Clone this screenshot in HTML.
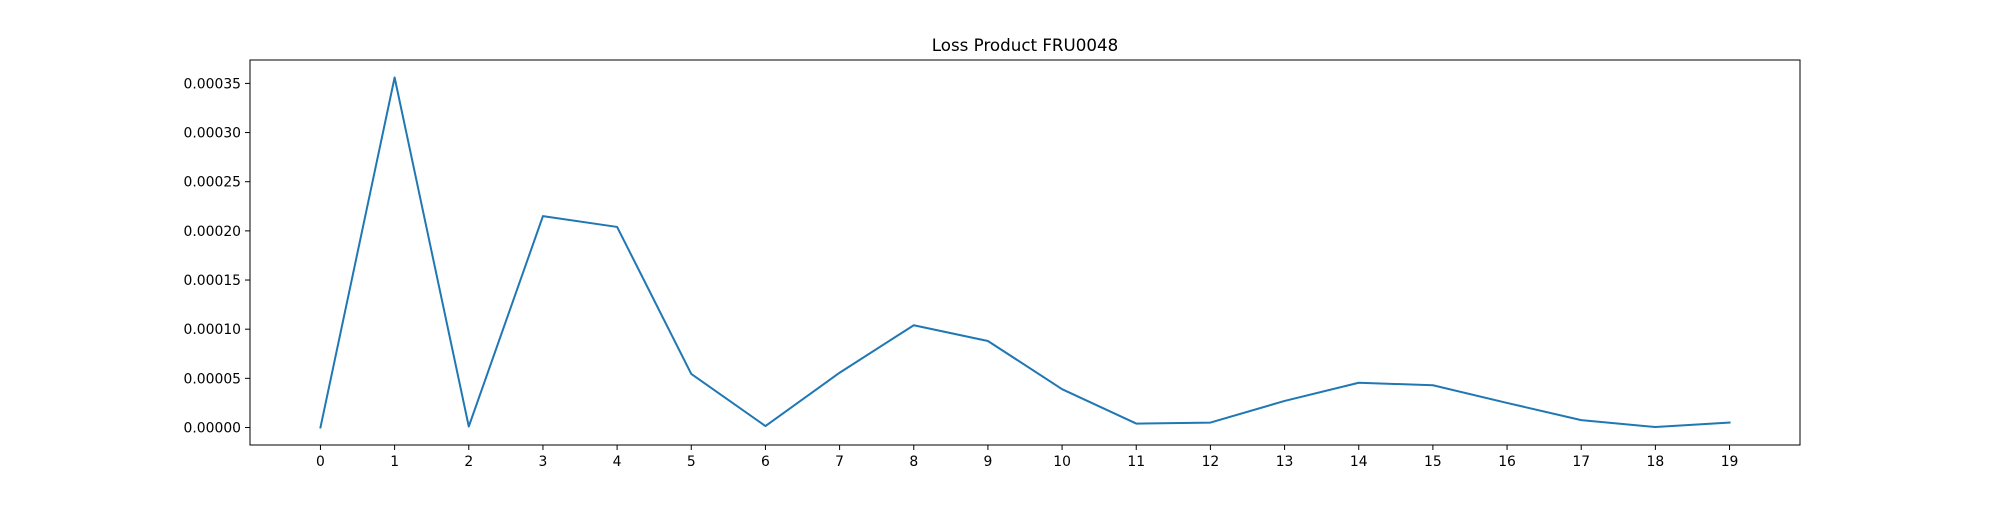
<!DOCTYPE html>
<html><head><meta charset="utf-8"><style>
body{margin:0;background:#fff}
svg text{font-family:"DejaVu Sans","Liberation Sans",sans-serif;font-size:13.9px;fill:#000}
</style></head><body>
<svg id="chart" width="2000" height="500" xmlns="http://www.w3.org/2000/svg">
<rect width="2000" height="500" fill="#fff"/>
<text x="1025" y="51" text-anchor="middle" style="font-size:16.7px">Loss Product FRU0048</text>
<g id="grid"></g>
<polyline id="line" fill="none" stroke="#1f77b4" stroke-width="2" stroke-linejoin="round" stroke-linecap="square"/>
<rect x="250" y="60" width="1550" height="385" fill="none" stroke="#000" stroke-width="1"/>
</svg>
<script>
const categories=[0,1,2,3,4,5,6,7,8,9,10,11,12,13,14,15,16,17,18,19];
const lossValues=[0,0.000356,0.000001,0.000215,0.000204,0.0000545,0.0000015,0.0000557,0.000104,0.000088,0.000039,0.000004,0.000005,0.000027,0.0000455,0.000043,0.000025,0.0000075,0.0000005,0.000005];
const yTicks=[0,0.00005,0.0001,0.00015,0.0002,0.00025,0.0003,0.00035];
const yTickLabels=["0.00000","0.00005","0.00010","0.00015","0.00020","0.00025","0.00030","0.00035"];
const L=250,R=1800,T=60,B=445;
const xmin=Math.min(...categories),xmax=Math.max(...categories),xm=(xmax-xmin)*0.05;
const ymin=Math.min(...lossValues),ymax=Math.max(...lossValues),ym=(ymax-ymin)*0.05;
const xs=v=>L+(v-(xmin-xm))/((xmax+xm)-(xmin-xm))*(R-L);
const ys=v=>B-(v-(ymin-ym))/((ymax+ym)-(ymin-ym))*(B-T);
const NS="http://www.w3.org/2000/svg",g=document.getElementById('grid');
function mk(t,a){const e=document.createElementNS(NS,t);for(const k in a)e.setAttribute(k,a[k]);g.appendChild(e);return e;}
categories.forEach(c=>{
 const x=xs(c);
 const tk=mk('line',{x1:x,x2:x,y1:B,y2:B+5,stroke:'#000','stroke-width':1});
 
 
 const t=mk('text',{x:x,y:B+21,'text-anchor':'middle'});t.textContent=c;
 
 
});
yTicks.forEach((v,i)=>{
 const y=ys(v);
 const tk=mk('line',{x1:L-5,x2:L,y1:y,y2:y,stroke:'#000','stroke-width':1});
 
 
 const t=mk('text',{x:L-9,y:y+5,'text-anchor':'end'});t.textContent=yTickLabels[i];
 
 
});
document.getElementById('line').setAttribute('points',categories.map((c,i)=>xs(c)+','+ys(lossValues[i])).join(' '));
</script>
</body></html>
